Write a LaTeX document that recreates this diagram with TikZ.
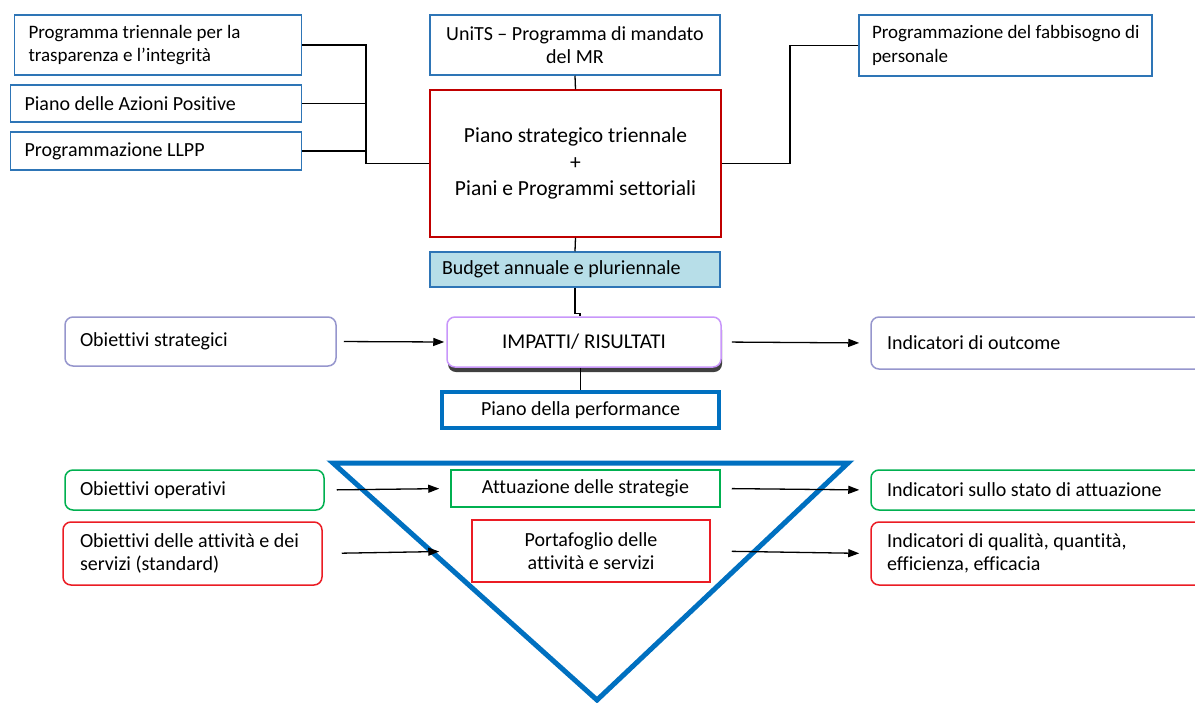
\documentclass[tikz,border=0pt]{standalone}
\usepackage{fontspec}
\setmainfont{Carlito}[Ligatures=NoCommon]
\usetikzlibrary{arrows.meta,shadows}

\definecolor{boxblue}{RGB}{46,117,182}
\definecolor{deepblue}{RGB}{0,112,192}
\definecolor{darkred}{RGB}{192,0,0}
\definecolor{brightred}{RGB}{235,28,36}
\definecolor{okgreen}{RGB}{0,176,80}
\definecolor{lavender}{RGB}{150,150,205}
\definecolor{lilac}{RGB}{200,150,250}
\definecolor{paleteal}{RGB}{183,222,232}

\begin{document}
\begin{tikzpicture}[x=1pt,y=-1pt,font=\fontsize{20}{23.5}\selectfont]
        \tikzstyle{box} = [draw,rectangle,fill=white,line width=1.5pt,inner xsep=14pt,inner ysep=0pt]
        \tikzstyle{leftbox} = [box,align=flush left]
        \tikzstyle{midbox} = [box,align=flush center]
        \tikzstyle{roundbox} = [leftbox,rounded corners=8pt]
        \tikzstyle{link} = [line width=1.3pt]
        \tikzstyle{arrow} = [link,-{Triangle[length=11pt,width=8pt]}]
        \useasboundingbox (0,0) rectangle (1195,702);
        % funnel
        \draw[deepblue,line width=5pt] (333,463) -- (848,463) -- (597,700) -- cycle;
        % top row
        \node[leftbox,draw=boxblue,text width=259pt,minimum height=60pt,font=\fontsize{19}{23.5}\selectfont] (ptti) at (158,45) {Programma triennale per la\\trasparenza e l’integrità};
        \node[leftbox,draw=boxblue,text width=263pt,minimum height=37pt] (azioni) at (156,103.5) {Piano delle Azioni Positive};
        \node[leftbox,draw=boxblue,text width=263pt,minimum height=38pt] (llpp) at (156,151) {Programmazione LLPP};
        \node[midbox,draw=boxblue,minimum width=290pt,minimum height=60pt] (units) at (575,45) {UniTS -- Programma di mandato\\del MR};
        \node[midbox,draw=darkred,minimum width=291pt,minimum height=147pt,font=\fontsize{21.5}{26.5}\selectfont] (piano) at (575.5,163.5) {Piano strategico triennale\\+\\Piani e Programmi settoriali};
        \node[leftbox,draw=boxblue,inner xsep=13pt,text width=267pt,minimum height=61pt,font=\fontsize{19}{23.5}\selectfont] (fabb) at (1005.5,45.5) {\mbox{Programmazione del fabbisogno di}\\personale};
        \node[leftbox,draw=boxblue,fill=paleteal,inner xsep=12pt,text width=266pt,minimum height=35pt] (budget) at (575,269.5) {Budget annuale e pluriennale};
        % middle row
        \node[midbox,draw=lilac,rounded corners=8pt,minimum width=274pt,minimum height=50pt,font=\fontsize{21}{25}\selectfont,
              drop shadow={shadow xshift=1pt,shadow yshift=-5pt,fill=black,opacity=0.75}] (impatti) at (584,342) {IMPATTI/ RISULTATI};
        \node[midbox,draw=deepblue,line width=4pt,minimum width=277pt,minimum height=36pt] (perf) at (580.5,410) {Piano della performance};
        \node[roundbox,draw=lavender,inner xsep=15pt,text width=241pt,minimum height=49pt] (obstrat) at (200.5,341.5) {Obiettivi strategici};
        \node[roundbox,draw=lavender,inner xsep=16pt,text width=306pt,minimum height=52pt] (indout) at (1040,343) {Indicatori di outcome};
        % bottom rows
        \node[roundbox,draw=okgreen,inner xsep=15pt,text width=229pt,minimum height=40pt] (oboper) at (194.5,490) {Obiettivi operativi};
        \node[midbox,draw=okgreen,minimum width=269pt,minimum height=37pt] (attuaz) at (585.5,488.5) {Attuazione delle strategie};
        \node[roundbox,draw=okgreen,inner xsep=16pt,text width=306pt,minimum height=40pt] (indstato) at (1040,490) {Indicatori sullo stato di attuazione};
        \node[roundbox,draw=brightred,inner xsep=17pt,text width=225pt,minimum height=63pt] (obatt) at (192.5,553.5) {Obiettivi delle attività e dei\\servizi (standard)};
        \node[midbox,draw=brightred,minimum width=238pt,minimum height=62pt] (portaf) at (591,551) {Portafoglio delle\\attività e servizi};
        \node[roundbox,draw=brightred,inner xsep=16pt,text width=306pt,minimum height=63pt] (indqual) at (1040,553.5) {Indicatori di qualità, quantità,\\efficienza, efficacia};
        % connectors
        \coordinate (junc) at (366,163.5);
        \coordinate (bend) at (790,163.5);
        \path[draw,link] (ptti.east) -| (junc) (azioni.east) -| (junc) (llpp.east) -| (junc) -- (piano.west);
        \path[draw,link] (piano.east) -- (bend) |- (fabb.west);
        \path[draw,link] (units.south) -- (piano.north);
        \path[draw,link] (piano.south) -- (budget.north);
        \path[draw,link] (budget.south) -- ++(0,26) -| ([xshift=-4pt]impatti.north);
        \path[draw,link] (perf.north |- impatti.south) -- (perf.north);
        \draw[arrow,shorten <=7pt,shorten >=2pt] (obstrat.east) -- (impatti.west);
        \draw[arrow,shorten <=10pt,shorten >=11pt] (impatti.east) -- (indout.west);
        \draw[arrow,shorten <=12pt,shorten >=11pt] (oboper.east) -- (attuaz.west);
        \draw[arrow,shorten <=11pt,shorten >=11pt] (attuaz.east) -- (indstato.west);
        \draw[arrow,shorten <=19pt,shorten >=32pt] (obatt.east) -- (portaf.west);
        \draw[arrow,shorten <=21pt,shorten >=11pt] (portaf.east) -- (indqual.west);
\end{tikzpicture}
\end{document}
